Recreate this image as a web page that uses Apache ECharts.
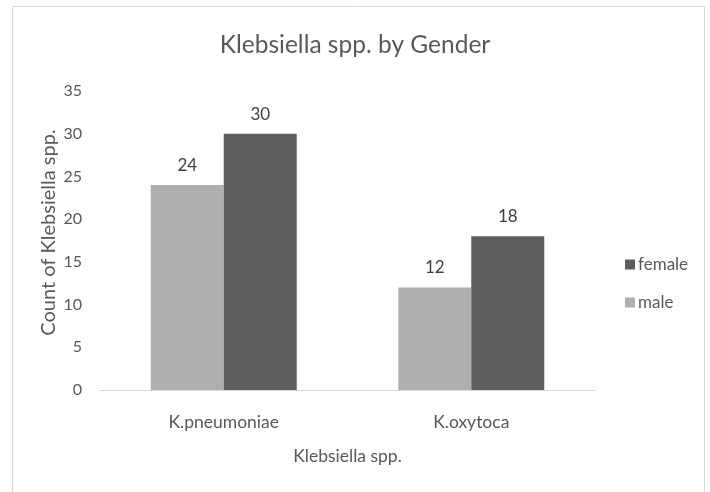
<!DOCTYPE html>
<html>
<head>
<meta charset="utf-8">
<script src="https://cdn.jsdelivr.net/npm/echarts@6/dist/echarts.min.js"></script>
<style>
  html, body { margin: 0; padding: 0; background: #fff; }
  #chart { width: 710px; height: 492px; }
</style>
</head>
<body>
<div id="chart"></div>
<script>
// Klebsiella isolates counted by species and patient gender
const categories = ['K.pneumoniae', 'K.oxytoca'];
const maleCounts = [24, 12];
const femaleCounts = [30, 18];
const yTicks = { min: 0, max: 35, interval: 5 };

const FONT = 'Lato, "Open Sans", sans-serif';
const TEXT = '#595959';

const chart = echarts.init(document.getElementById('chart'), null, { renderer: 'canvas' });

const valueLabel = {
  show: true,
  position: 'top',
  distance: 11,
  color: '#404040',
  fontSize: 17,
  fontFamily: FONT
};

chart.setOption({
  backgroundColor: '#ffffff',
  animation: false,
  graphic: [{
    type: 'rect',
    shape: { x: 12.5, y: 6.5, width: 692, height: 520 },
    style: { fill: 'none', stroke: '#d9d9d9', lineWidth: 1 },
    silent: true
  }],
  title: {
    text: 'Klebsiella spp. by Gender',
    left: 'center',
    top: 28,
    textStyle: { color: TEXT, fontSize: 24.5, fontWeight: 'normal', fontFamily: FONT }
  },
  legend: {
    orient: 'vertical',
    left: 620,
    top: 251,
    itemWidth: 10,
    itemHeight: 10,
    itemGap: 21,
    icon: 'rect',
    data: ['female', 'male'],
    textStyle: { color: TEXT, fontSize: 17, fontFamily: FONT, padding: [0, 0, 0, -2] }
  },
  grid: { left: 100, right: 115, top: 91, bottom: 102 },
  xAxis: {
    type: 'category',
    data: categories,
    name: 'Klebsiella spp.',
    nameLocation: 'middle',
    nameGap: 57,
    nameTextStyle: { color: TEXT, fontSize: 17.5, fontFamily: FONT },
    axisLine: { lineStyle: { color: '#d9d9d9', width: 1 } },
    axisTick: { show: false },
    axisLabel: { color: TEXT, fontSize: 17.5, fontFamily: FONT, margin: 23 }
  },
  yAxis: {
    type: 'value',
    min: yTicks.min,
    max: yTicks.max,
    interval: yTicks.interval,
    name: 'Count of Klebsiella spp.',
    nameLocation: 'middle',
    nameGap: 41,
    nameMoveOverlap: false,
    nameTextStyle: { color: TEXT, fontSize: 20, fontFamily: FONT, padding: [0, 0, 0, 16] },
    axisLine: { show: false },
    axisTick: { show: false },
    splitLine: { show: false },
    axisLabel: { color: TEXT, fontSize: 16, fontFamily: FONT, margin: 18 }
  },
  series: [
    {
      name: 'male',
      type: 'bar',
      data: maleCounts,
      barWidth: 73,
      barGap: '0%',
      itemStyle: { color: '#afafaf' },
      label: valueLabel
    },
    {
      name: 'female',
      type: 'bar',
      data: femaleCounts,
      barWidth: 73,
      barGap: '0%',
      itemStyle: { color: '#5e5e5e' },
      label: valueLabel
    }
  ]
});
</script>
</body>
</html>
